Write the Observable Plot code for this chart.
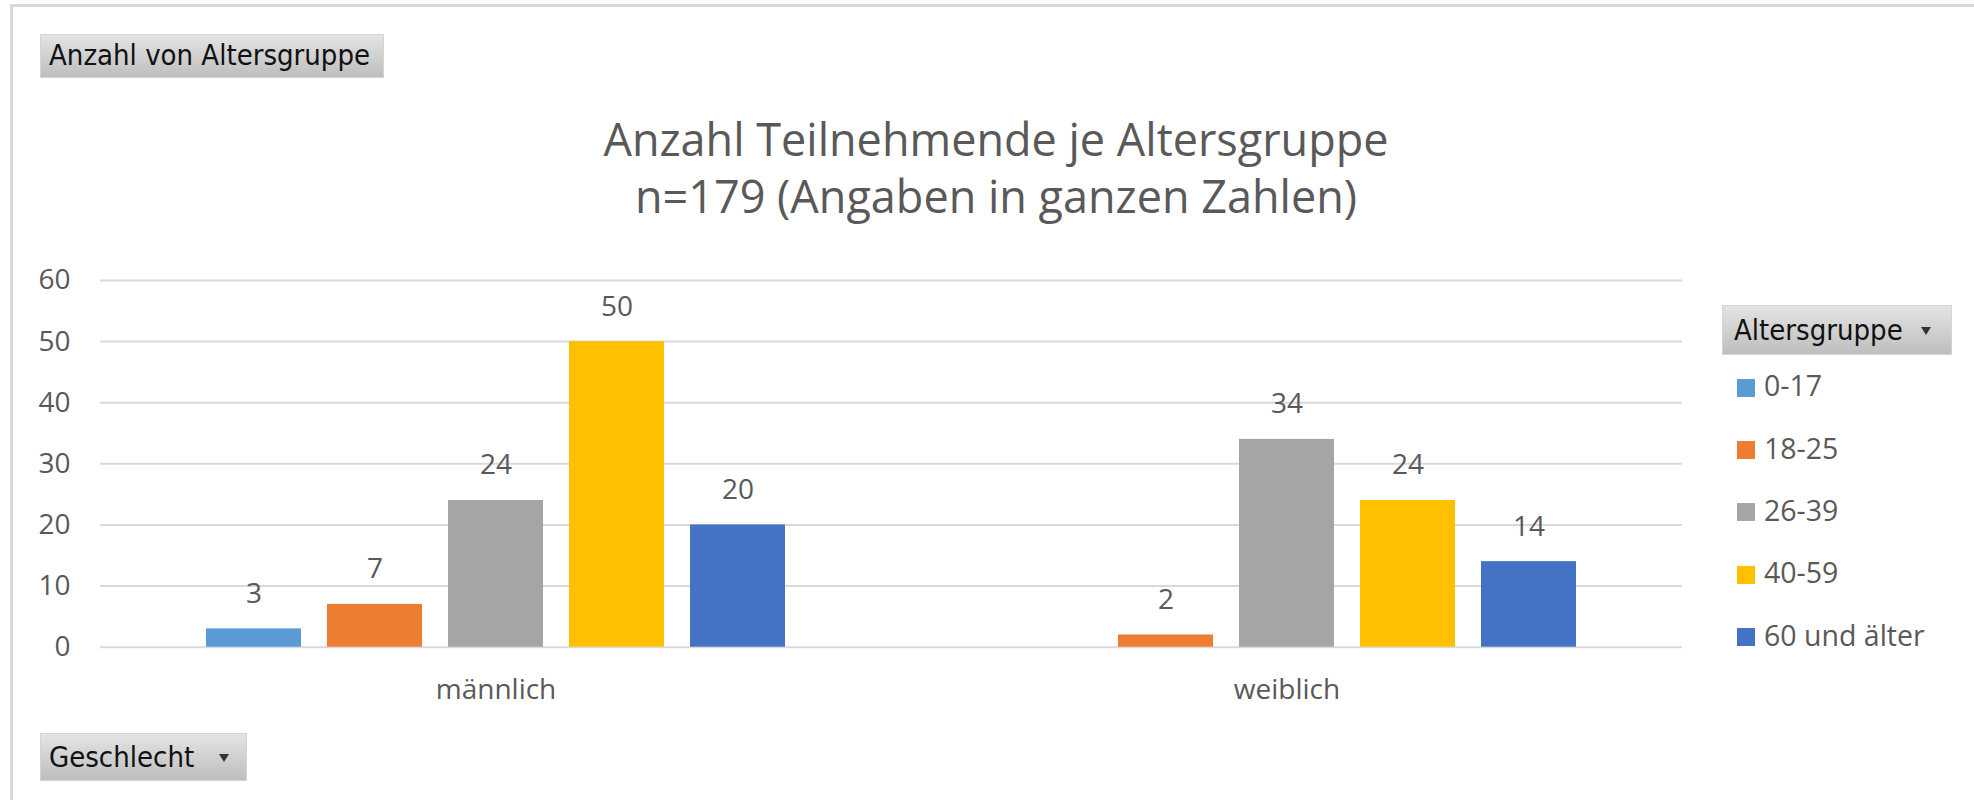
<!DOCTYPE html>
<html>
<head>
<meta charset="utf-8">
<script src="https://cdn.jsdelivr.net/npm/d3@7"></script>
<script src="https://cdn.jsdelivr.net/npm/@observablehq/plot@0.6"></script>
<style>
  html, body { margin: 0; padding: 0; background: #fff; overflow: hidden; }
  #page { position: relative; width: 1974px; height: 800px; overflow: hidden; background: #fff; font-family: "Open Sans", sans-serif; }
  .frameTop { position: absolute; left: 10px; top: 4px; width: 1964px; height: 3px; background: #D9D9D9; }
  .frameLeft { position: absolute; left: 10px; top: 4px; width: 3px; height: 796px; background: #D9D9D9; }
  .btn { position: absolute; box-sizing: border-box; border: 1px solid #D4D4D4;
         background: linear-gradient(#E4E4E4, #BEBEBE);
         font-family: "DejaVu Sans Condensed", "DejaVu Sans", sans-serif; font-stretch: condensed;
         font-size: 29px; line-height: 1; color: #111; white-space: nowrap; }
  .btn span { position: absolute; }
  .arrow { position: absolute; width: 0; height: 0; border-left: 5px solid transparent; border-right: 5px solid transparent; border-top: 8px solid #333; }
  .title { position: absolute; left: 996px; transform: translateX(-50%); white-space: nowrap;
           font-family: "Open Sans", sans-serif; font-size: 45px; line-height: 1; color: #595959; }
  .leg { position: absolute; font-family: "Open Sans", sans-serif; font-size: 28.5px; line-height: 1; color: #595959; white-space: nowrap; }
  .sw { position: absolute; width: 18px; height: 18px; }
  #chart { position: absolute; left: 0; top: 250px; }
</style>
</head>
<body>
<div id="page">
  <div class="frameTop"></div>
  <div class="frameLeft"></div>
  <div class="btn" style="left:40px; top:34px; width:344px; height:44px;"><span style="left:8px; top:6px;">Anzahl von Altersgruppe</span></div>
  <div class="title" id="t1" style="top:116px;"></div>
  <div class="title" id="t2" style="top:173px;"></div>
  <div id="chart"></div>
  <div class="btn" style="left:1722px; top:305px; width:230px; height:50px;"><span style="left:11px; top:10px;">Altersgruppe</span><div class="arrow" style="left:198px; top:21px;"></div></div>
  <div id="legend"></div>
  <div class="btn" style="left:40px; top:733px; width:207px; height:48px;"><span style="left:8px; top:9px;">Geschlecht</span><div class="arrow" style="left:178px; top:20px;"></div></div>
</div>
<script>
const titleLines = ["Anzahl Teilnehmende je Altersgruppe", "n=179 (Angaben in ganzen Zahlen)"];
const genders = ["männlich", "weiblich"];
const ageGroups = ["0-17", "18-25", "26-39", "40-59", "60 und älter"];
const maleCounts = [3, 7, 24, 50, 20];
const femaleCounts = [null, 2, 34, 24, 14];
const ageColors = ["#5B9BD5", "#ED7D31", "#A5A5A5", "#FFC000", "#4472C4"];
const yTicks = [0, 10, 20, 30, 40, 50, 60];

document.getElementById("t1").textContent = titleLines[0];
document.getElementById("t2").textContent = titleLines[1];

const seriesByGender = [maleCounts, femaleCounts];
const rows = [];
genders.forEach((g, gi) => {
  ageGroups.forEach((a, ai) => {
    const v = seriesByGender[gi][ai];
    if (v != null) rows.push({gender: g, age: a, value: v});
  });
});

const chart = Plot.plot({
  width: 1700,
  height: 470,
  marginLeft: 100,
  marginRight: 18,
  marginTop: 30,
  marginBottom: 73.3,
  style: {fontFamily: "'Open Sans', sans-serif", fontSize: "28px", color: "#595959", background: "transparent", overflow: "visible"},
  fx: {domain: genders, padding: 0, label: null},
  x: {domain: ageGroups, paddingInner: 0.215, paddingOuter: 0.87, axis: null},
  y: {domain: [0, 60], label: null},
  color: {domain: ageGroups, range: ageColors},
  marks: [
    Plot.gridY(yTicks, {stroke: "#D9D9D9", strokeOpacity: 1, strokeWidth: 2}),
    Plot.barY(rows, {fx: "gender", x: "age", y: "value", fill: "age"}),
    Plot.text(rows, {fx: "gender", x: "age", y: "value", text: d => String(d.value), dy: -35, fill: "#595959", fontSize: 28}),
    Plot.axisY(yTicks, {tickSize: 0, tickPadding: 30, label: null, fontSize: 28, fill: "#595959"}),
    Plot.axisFx({anchor: "bottom", tickSize: 0, tickPadding: 32, label: null, fontSize: 28, fill: "#595959"})
  ]
});
document.getElementById("chart").appendChild(chart);

const legend = document.getElementById("legend");
ageGroups.forEach((a, i) => {
  const baseline = 396.7 + i * 62.3;
  const sw = document.createElement("div");
  sw.className = "sw";
  sw.style.left = "1737px";
  sw.style.top = (baseline - 18) + "px";
  sw.style.background = ageColors[i];
  legend.appendChild(sw);
  const t = document.createElement("div");
  t.className = "leg";
  t.style.left = "1764px";
  t.style.top = (baseline - 25.3) + "px";
  t.textContent = a;
  legend.appendChild(t);
});
</script>
</body>
</html>
